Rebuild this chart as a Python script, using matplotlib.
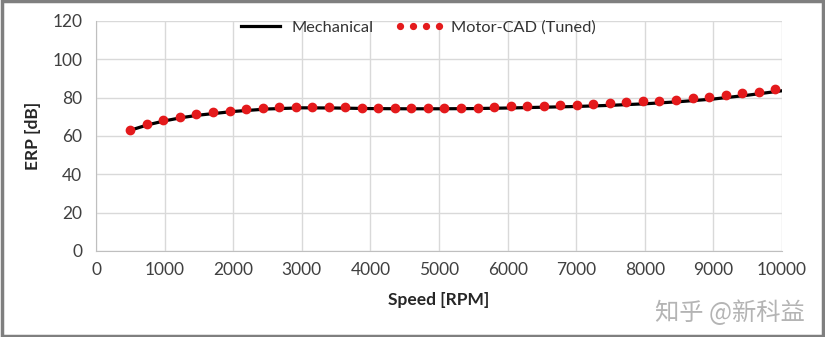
import numpy as np
import matplotlib
matplotlib.use("Agg")
import matplotlib.pyplot as plt
from matplotlib.patches import Rectangle

# Mechanical reference curve
mech_speed = [500, 750, 1000, 1250, 1500, 2000, 2500, 3000, 3500, 4000, 4500,
              5000, 5500, 6000, 6500, 7000, 7500, 8000, 8500, 9000, 9500, 10000]
mech_erp = [63.0, 65.8, 67.9, 69.6, 70.9, 72.8, 74.1, 74.7, 74.6, 74.3, 74.2,
            74.2, 74.3, 74.6, 75.0, 75.4, 76.0, 76.8, 77.9, 79.3, 81.3, 83.6]

# Motor-CAD (tuned) samples
mcad_speed = [500, 741, 982, 1223, 1464, 1705, 1946, 2187, 2428, 2669,
              2910, 3151, 3392, 3633, 3874, 4115, 4356, 4597, 4838, 5079,
              5321, 5562, 5803, 6044, 6285, 6526, 6767, 7008, 7249, 7490,
              7731, 7972, 8213, 8454, 8695, 8936, 9177, 9418, 9659, 9900]
mcad_erp = [63.0, 66.0, 68.3, 70.0, 71.3, 72.4, 73.2, 73.9, 74.5, 75.0,
            75.2, 75.2, 75.0, 74.9, 74.8, 74.8, 74.8, 74.8, 74.8, 74.8,
            74.8, 74.8, 75.2, 75.4, 75.7, 75.9, 76.0, 76.4, 76.7, 77.3,
            77.6, 78.0, 78.5, 79.0, 79.6, 80.1, 81.3, 82.4, 83.2, 84.4]

x_ticks = np.arange(0, 10001, 1000)
y_ticks = np.arange(0, 121, 20)

plt.rcParams['font.family'] = ['Lato', 'DejaVu Sans']

fig = plt.figure(figsize=(8.25, 3.37), dpi=100)
ax = fig.add_axes([0.1164, 0.2552, 0.8316, 0.6825])

ax.plot(mech_speed, mech_erp, color='black', lw=2.3, label='Mechanical', zorder=2)
ax.plot(mcad_speed, mcad_erp, ls='none', marker='o', ms=6, color='#e41a1c',
        mec='#e41a1c', label='Motor-CAD (Tuned)', zorder=3)

ax.set_xlim(0, 10000)
ax.set_ylim(0, 120)
ax.set_xticks(x_ticks)
ax.set_yticks(y_ticks)
ax.grid(True, color='#d9d9d9', lw=1)
ax.set_axisbelow(True)
ax.tick_params(length=0, labelsize=12.5, colors='#404040', pad=8)
ax.tick_params(axis='y', pad=10)
for s in ['top', 'right']:
    ax.spines[s].set_visible(False)
for s in ['left', 'bottom']:
    ax.spines[s].set_color('#bfbfbf')

ax.set_xlabel('Speed [RPM]', fontsize=12.5, fontweight='bold', color='#262626', labelpad=10)
ax.set_ylabel('ERP [dB]', fontsize=12.5, fontweight='bold', color='#262626', labelpad=8)

ax.legend(loc='center', bbox_to_anchor=(0.466, 0.97), ncol=2, frameon=False,
          numpoints=4, handlelength=3.0, handletextpad=0.4, columnspacing=1.3,
          fontsize=11.8, labelcolor='#333333', markerscale=0.7)

fig.text(0.976, 0.07, '知乎 @新科益', fontsize=17.5, color='#b4b4b4', ha='right',
         va='center', family=['Noto Sans CJK SC', 'DejaVu Sans'])

# grey frame round the image
fig.patches.append(Rectangle((0.002, 0.003), 0.996, 0.994, transform=fig.transFigure,
                             fill=False, ec='#7f7f7f', lw=2.5))

fig.savefig('out.png', dpi=100)
